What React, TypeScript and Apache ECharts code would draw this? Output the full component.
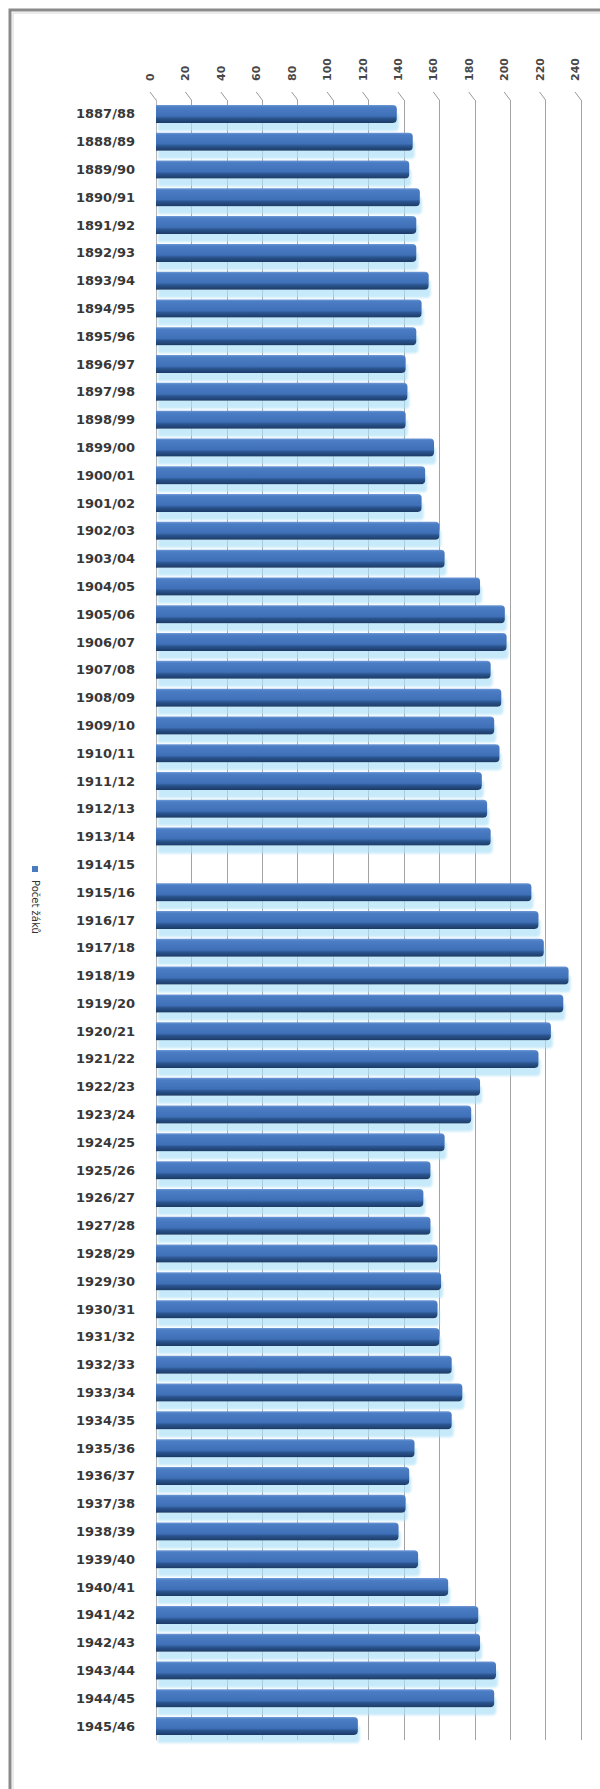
import React, { useEffect, useRef } from "react";
import * as echarts from "echarts";

const categories = [
  "1887/88", "1888/89", "1889/90", "1890/91", "1891/92", "1892/93", "1893/94", "1894/95",
  "1895/96", "1896/97", "1897/98", "1898/99", "1899/00", "1900/01", "1901/02", "1902/03",
  "1903/04", "1904/05", "1905/06", "1906/07", "1907/08", "1908/09", "1909/10", "1910/11",
  "1911/12", "1912/13", "1913/14", "1914/15", "1915/16", "1916/17", "1917/18", "1918/19",
  "1919/20", "1920/21", "1921/22", "1922/23", "1923/24", "1924/25", "1925/26", "1926/27",
  "1927/28", "1928/29", "1929/30", "1930/31", "1931/32", "1932/33", "1933/34", "1934/35",
  "1935/36", "1936/37", "1937/38", "1938/39", "1939/40", "1940/41", "1941/42", "1942/43",
  "1943/44", "1944/45", "1945/46",
];

const pupils: (number | null)[] = [
  136, 145, 143, 149, 147, 147, 154, 150,
  147, 141, 142, 141, 157, 152, 150, 160,
  163, 183, 197, 198, 189, 195, 191, 194,
  184, 187, 189, null, 212, 216, 219, 233,
  230, 223, 216, 183, 178, 163, 155, 151,
  155, 159, 161, 159, 160, 167, 173, 167,
  146, 143, 141, 137, 148, 165, 182, 183,
  192, 191, 114,
];

const xTicks = [0, 20, 40, 60, 80, 100, 120, 140, 160, 180, 200, 220, 240];
const seriesName = "Počet žáků";

export default function App() {
  const ref = useRef<HTMLDivElement>(null);

  useEffect(() => {
    document.body.style.margin = "0";
    const chart = echarts.init(ref.current!, null, { renderer: "svg" });
    const labelFont = "'DejaVu Sans', Verdana, sans-serif";
    chart.setOption({
      animation: false,
      backgroundColor: "#ffffff",
      grid: { left: 156, width: 425, top: 100, height: 1640, containLabel: false },
      xAxis: {
        type: "value",
        position: "top",
        min: 0,
        max: 240,
        interval: 20,
        axisLine: { show: false },
        axisTick: { show: false },
        splitLine: { show: true, lineStyle: { color: "#a3a3a3", width: 1 } },
        axisLabel: {
          rotate: -90,
          margin: 19,
          verticalAlign: "bottom",
          color: "#484848",
          fontFamily: labelFont,
          fontWeight: "bold",
          fontSize: 11,
        },
      },
      yAxis: {
        type: "category",
        data: categories,
        inverse: true,
        offset: 6,
        axisLine: { show: true, lineStyle: { color: "#b5b5b5", width: 1 } },
        axisTick: { show: false },
        splitLine: { show: false },
        axisLabel: {
          margin: 15,
          color: "#383838",
          fontFamily: labelFont,
          fontWeight: "bold",
          fontSize: 13,
        },
      },
      series: [
        {
          type: "custom",
          silent: true,
          z: 1,
          data: xTicks.map((v) => [v, 0]),
          encode: { x: 0, y: 1 },
          renderItem: (params: any, api: any) => {
            const v = api.value(0);
            const p = api.coord([v, 0]);
            const band = api.size([0, 1])[1];
            const top = p[1] - band / 2;
            return {
              type: "line",
              shape: { x1: p[0] - 6, y1: top - 8, x2: p[0], y2: top },
              style: { stroke: "#9a9a9a", lineWidth: 1 },
            };
          },
        },
        {
          name: seriesName,
          type: "bar",
          data: pupils,
          barWidth: 18,
          z: 3,
          itemStyle: {
            borderRadius: [0, 4, 4, 0],
            shadowColor: "rgba(175, 225, 248, 0.7)",
            shadowBlur: 2,
            shadowOffsetY: 8,
            shadowOffsetX: 2,
            color: new echarts.graphic.LinearGradient(0, 0, 0, 1, [
              { offset: 0, color: "#6f99d6" },
              { offset: 0.12, color: "#4b7dc4" },
              { offset: 0.62, color: "#3f70b8" },
              { offset: 0.74, color: "#2b558f" },
              { offset: 1, color: "#1d3a66" },
            ]),
          },
        },
      ],
      graphic: [
        {
          type: "rect",
          shape: { x: 10, y: 10, width: 640, height: 1820 },
          style: { fill: "none", stroke: "#8a8a8a", lineWidth: 3 },
          silent: true,
        },
        {
          type: "rect",
          shape: { x: 13, y: 13, width: 640, height: 1820 },
          style: { fill: "none", stroke: "#d6d6d6", lineWidth: 1 },
          silent: true,
        },
        {
          type: "rect",
          shape: { x: 32, y: 866, width: 6, height: 6 },
          style: { fill: "#4a7bc0" },
          silent: true,
        },
        {
          type: "text",
          x: 35,
          y: 880,
          rotation: -Math.PI / 2,
          style: {
            text: seriesName,
            fill: "#333333",
            font: "10px 'DejaVu Sans', sans-serif",
            textAlign: "left",
            textVerticalAlign: "middle",
          },
          silent: true,
        },
      ],
    });
    return () => chart.dispose();
  }, []);

  return <div ref={ref} style={{ width: 600, height: 1789 }} />;
}
